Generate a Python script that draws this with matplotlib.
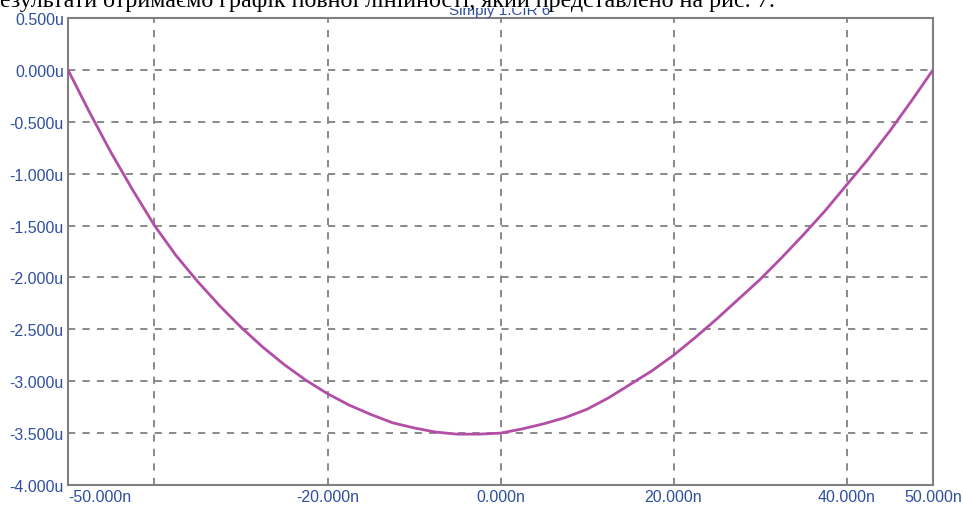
import matplotlib
matplotlib.use('Agg')
import matplotlib.pyplot as plt
from matplotlib.patches import Rectangle

# дані кривої (x у нс, y у мкА)
x_n = [-50, -47.5, -45, -42.5, -40, -37.5, -35, -32.5, -30, -27.5, -25, -22.5,
       -20, -17.5, -15, -12.5, -10, -7.5, -5, -2.5, 0, 2.5, 5, 7.5, 10, 12.5,
       15, 17.5, 20, 22.5, 25, 27.5, 30, 32.5, 35, 37.5, 40, 42.5, 45, 47.5, 50]
y_u = [0.0, -0.41, -0.80, -1.16, -1.50, -1.79, -2.04, -2.27, -2.48, -2.67,
       -2.84, -2.99, -3.12, -3.23, -3.32, -3.40, -3.45, -3.49, -3.51, -3.51,
       -3.50, -3.46, -3.41, -3.35, -3.27, -3.16, -3.03, -2.90, -2.75, -2.58,
       -2.40, -2.21, -2.02, -1.81, -1.59, -1.36, -1.11, -0.86, -0.59, -0.30, 0.0]

x_ticks = [-50, -40, -20, 0, 20, 40, 50]
x_labels = ['-50.000n', '', '-20.000n', '0.000n', '20.000n', '40.000n', '50.000n']
y_ticks = [0.5, 0.0, -0.5, -1.0, -1.5, -2.0, -2.5, -3.0, -3.5, -4.0]
y_labels = ['%.3fu' % v for v in y_ticks]

title = 'Simply 1.CIR 6'
doc_line = 'езультати отримаємо графік повної лінійності, який представлено на рис. 7.'

W, H = 963, 506
blue = '#2f4f9f'
grey = '#808080'

plt.rcParams['font.family'] = ['Liberation Sans', 'DejaVu Sans']

fig = plt.figure(figsize=(W / 100, H / 100), dpi=100)
ax = fig.add_axes([68 / W, 1 - 486 / H, (933 - 68) / W, (486 - 19) / H])

ax.plot(x_n, y_u, color='#b24ea6', lw=2.0, zorder=3)

ax.set_xlim(-50, 50)
ax.set_ylim(-4.0, 0.5)
ax.set_xticks(x_ticks)
ax.set_xticklabels(x_labels)
ax.set_yticks(y_ticks)
ax.set_yticklabels(y_labels)
ax.tick_params(length=0, labelsize=11.5, labelcolor=blue)
ax.tick_params(axis='x', pad=3)
ax.tick_params(axis='y', pad=3)
ax.get_xticklabels()[0].set_horizontalalignment('left')

ax.grid(True, color=grey, linestyle=(0, (4, 4)), linewidth=1.3)
for s in ax.spines.values():
    s.set_color(grey)
    s.set_linewidth(1.5)

# заголовок симулятора, частково перекритий рядком тексту документа
fig.text(500 / W, 1 - 15.5 / H, title, ha='center', va='baseline',
         fontsize=11, color=blue)
fig.patches.append(Rectangle((0, 1 - 8.5 / H), 1, 8.5 / H, transform=fig.transFigure,
                             facecolor='white', edgecolor='none', zorder=5))
fig.text(0, 1 - 7.5 / H, doc_line, ha='left', va='baseline', fontsize=17.3,
         family=['Liberation Serif', 'DejaVu Serif'], color='black', zorder=6)

fig.savefig('out.png', dpi=100)
